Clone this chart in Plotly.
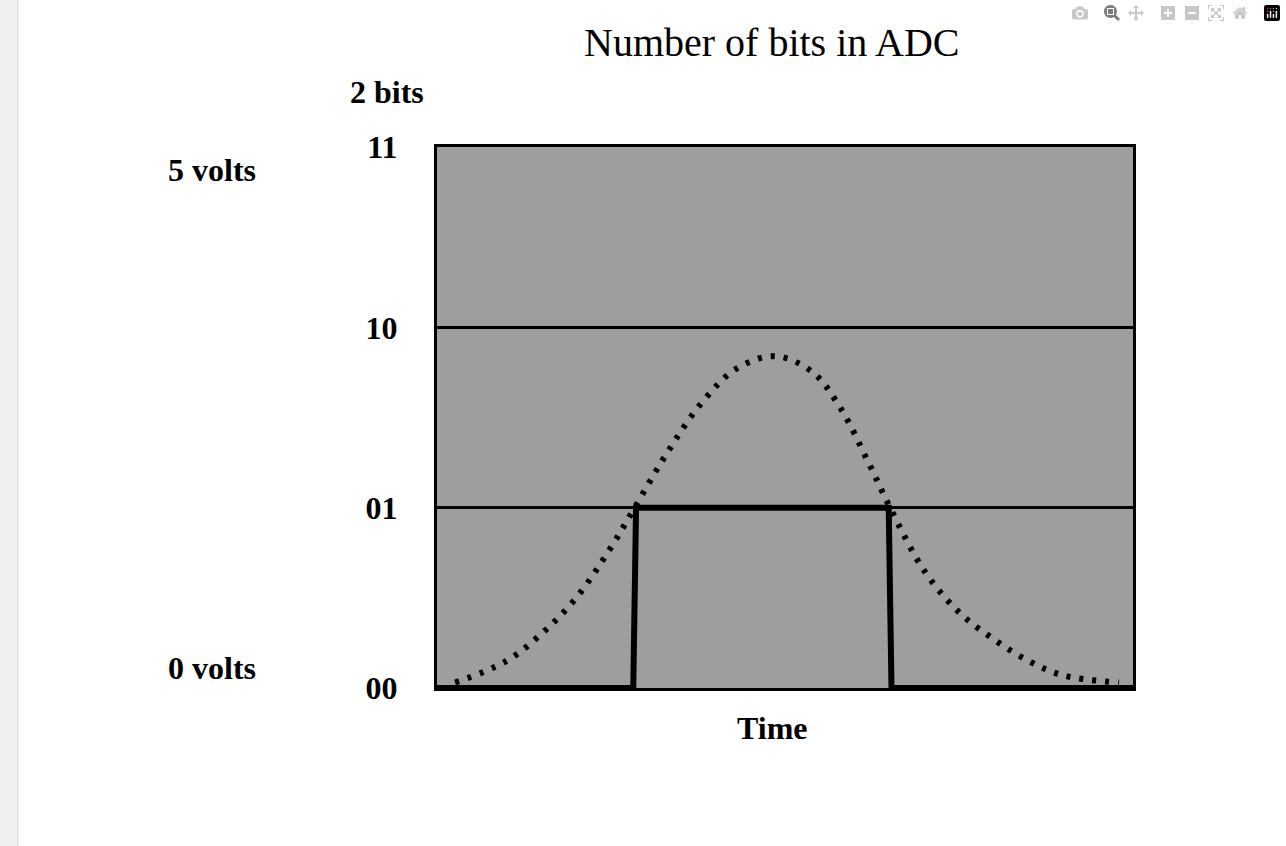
import plotly.graph_objects as go

curve_x = [2.6, 10, 15, 20, 25, 28.4, 33, 38, 43, 48.6, 54, 58, 62, 65.1, 70, 75, 80, 85, 90, 98]
curve_y = [0.03, 0.15, 0.3, 0.5, 0.78, 1.0, 1.3, 1.58, 1.77, 1.84, 1.75, 1.55, 1.25, 1.0, 0.65, 0.42, 0.27, 0.15, 0.07, 0.03]
step_x = [0, 28.2, 28.6, 64.9, 65.3, 100]
step_y = [0, 0, 1, 1, 0, 0]
tick_vals = [0, 1, 2, 3]
tick_text = ["00", "01", "10", "11"]

F = "Liberation Serif"
fig = go.Figure()
fig.add_trace(go.Scatter(x=curve_x, y=curve_y, mode="lines",
                         line=dict(color="black", width=6, dash="4px,9px", shape="spline"), hoverinfo="skip"))
fig.add_trace(go.Scatter(x=step_x, y=step_y, mode="lines",
                         line=dict(color="black", width=6), hoverinfo="skip"))
fig.update_layout(
    width=1286, height=846, showlegend=False,
    margin=dict(l=437, r=153, t=147, b=158),
    paper_bgcolor="white", plot_bgcolor="#9e9e9e",
    font=dict(family=F, color="black"),
    xaxis=dict(range=[0, 100], showticklabels=False, showgrid=False, zeroline=False,
               showline=True, mirror=True, linecolor="black", linewidth=3, ticks=""),
    yaxis=dict(range=[0, 3], tickvals=tick_vals, ticktext=tick_text, showgrid=True,
               gridcolor="black", gridwidth=2.5, zeroline=False, showline=True, mirror=True,
               linecolor="black", linewidth=3, ticks="", ticklabelstandoff=30,
               tickfont=dict(family=F, size=32, color="black", weight="bold")),
)
px = lambda x: (x - 437) / 696
py = lambda y: (688 - y) / 541
def ann(text, x, y, anchor, size=32):
    fig.add_annotation(text="<b>%s</b>" % text, x=px(x), y=py(y), xref="paper", yref="paper",
                       xanchor=anchor, showarrow=False, font=dict(family=F, size=size, color="black"))
ann("5 volts", 166, 150, "left")
ann("0 volts", 166, 688, "left")
ann("2 bits", 348, 72, "left")
ann("Time", 772, 748, "center")
fig.add_annotation(text="Number of bits in ADC", x=px(772), y=py(18), xref="paper", yref="paper",
                   showarrow=False, font=dict(family=F, size=40, color="black"))
fig.add_shape(type="rect", xref="paper", yref="paper", x0=px(-2), x1=px(18), y0=py(850), y1=py(-2),
              fillcolor="#f0f0f0", line=dict(color="#d8d8d8", width=1), layer="below")
fig.write_html("out.html", post_script="document.body.style.margin='0';")
